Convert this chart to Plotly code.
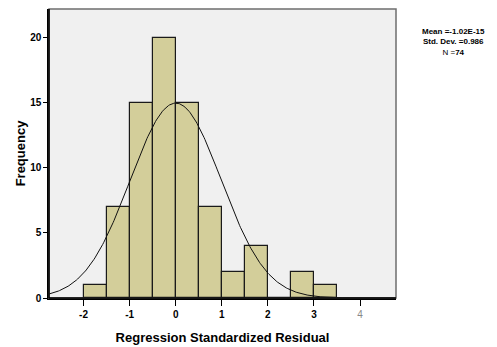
import numpy as np
import plotly.graph_objects as go

bin_starts = [-2.0, -1.5, -1.0, -0.5, 0.0, 0.5, 1.0, 1.5, 2.0, 2.5, 3.0]
bin_width = 0.5
counts = [1, 7, 15, 20, 15, 7, 2, 4, 0, 2, 1]
mean_val = -1.02e-15
std_val = 0.986
n_val = 74
x_ticks = [-2, -1, 0, 1, 2, 3, 4]
y_ticks = [0, 5, 10, 15, 20]

centers = [b + bin_width / 2 for b in bin_starts]
xs = np.linspace(-2.75, 4.75, 400)
ys = n_val * bin_width * np.exp(-0.5 * ((xs - mean_val) / std_val) ** 2) / (std_val * np.sqrt(2 * np.pi))

fig = go.Figure()
fig.add_trace(go.Bar(x=centers, y=counts, width=bin_width,
                     marker=dict(color="#D3CE9A", line=dict(color="#1a1a1a", width=1.2)),
                     hoverinfo="skip"))
fig.add_trace(go.Scatter(x=xs, y=ys, mode="lines", line=dict(color="#111111", width=1), hoverinfo="skip"))

ticktext = [f"<b>{t}</b>" if t != 4 else f"<span style='color:#888888'>{t}</span>" for t in x_ticks]
fig.update_layout(
    width=497, height=347,
    margin=dict(l=49, r=101, t=9, b=49, autoexpand=False),
    paper_bgcolor="white", plot_bgcolor="#F0F0F0",
    showlegend=False, bargap=0,
    font=dict(family="Liberation Sans", color="black"),
    xaxis=dict(range=[-2.75, 4.78], tickvals=x_ticks, ticktext=ticktext,
               ticks="outside", ticklen=6, tickcolor="black", showgrid=False, zeroline=False,
               showline=True, linecolor="black", linewidth=1.5,
               tickfont=dict(size=10, family="Liberation Sans", color="black"),
               title=dict(text="<b>Regression Standardized Residual</b>", font=dict(size=13, family="Liberation Sans"), standoff=14)),
    yaxis=dict(range=[0, 22.2], tickvals=y_ticks, ticktext=[f"<b>{t}</b>" for t in y_ticks],
               ticks="outside", ticklen=4, tickcolor="black", showgrid=False, zeroline=False,
               showline=True, linecolor="black", linewidth=1.5,
               tickfont=dict(size=10, family="Liberation Sans", color="black"),
               title=dict(text="<b>Frequency</b>", font=dict(size=13, family="Liberation Sans"), standoff=2)),
)
fig.add_shape(type="rect", xref="paper", yref="paper", x0=0, x1=1, y0=0, y1=1,
              line=dict(color="#6e6e6e", width=1.5), layer="above")
fig.add_shape(type="line", xref="paper", yref="paper", x0=0, x1=1, y0=0, y1=0,
              line=dict(color="black", width=1.5), layer="above")
fig.add_shape(type="line", xref="paper", yref="paper", x0=0, x1=0, y0=0, y1=1,
              line=dict(color="black", width=1.5), layer="above")
fig.add_annotation(xref="paper", yref="paper", x=1.0, y=1.0, xshift=57, yshift=-16,
                   xanchor="center", yanchor="top", showarrow=False, align="center",
                   text=f"<b>Mean =-1.02E-15</b><br><b>Std. Dev. =0.986</b><br>N =<b>{n_val}</b>",
                   font=dict(size=8, family="Liberation Sans", color="black"))
fig.write_html("out.html", config={"displayModeBar": False},
               post_script="document.body.style.margin='0';")
